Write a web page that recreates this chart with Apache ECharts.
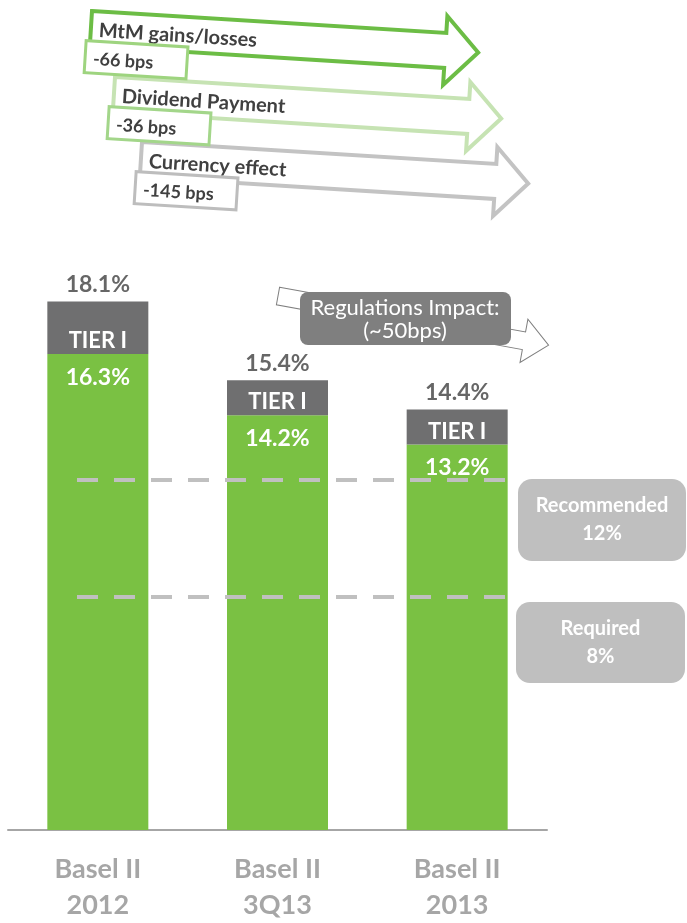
<!DOCTYPE html>
<html>
<head>
<meta charset="utf-8">
<script src="https://cdn.jsdelivr.net/npm/echarts@6/dist/echarts.min.js"></script>
<style>
  html, body { margin: 0; padding: 0; background: #fff; }
  #chart { width: 687px; height: 923px; }
</style>
</head>
<body>
<div id="chart"></div>
<script>
// values
const categories = ['Basel II\n2012', 'Basel II\n3Q13', 'Basel II\n2013']
const totalRatio = [18.1, 15.4, 14.4]
const tier1Ratio = [16.3, 14.2, 13.2]
const segmentLabel = 'TIER I'
const thresholds = [12, 8]
const thresholdNames = ['Recommended', 'Required']
const drivers = ['MtM gains/losses', 'Dividend Payment', 'Currency effect']
const driverBps = [-66, -36, -145]
const regulationBps = 50

// gray top segment = total minus tier I part
const topPart = totalRatio.map((t, i) => +(t - tier1Ratio[i]).toFixed(1))

const FONT = 'Lato'
const GREEN = '#7ac143'
const DARK = '#404040'

// one tilted outlined arrow with a small bps box on its tail
function driverArrow(x, y, title, bps, stroke, boxStroke) {
    return {
        type: 'group',
        x: x,
        y: y,
        rotation: -0.062,
        children: [
            {
                type: 'polygon',
                shape: { points: [[0, 0], [355, 0], [355, -17], [388, 17.5], [355, 52], [355, 35], [0, 35]] },
                style: { fill: '#fff', stroke: stroke, lineWidth: 4, lineJoin: 'miter' }
            },
            {
                type: 'text', x: 8, y: 19,
                style: { text: title, fontFamily: FONT, fontWeight: 'bold', fontSize: 20, fill: DARK, verticalAlign: 'middle' }
            },
            {
                type: 'rect',
                shape: { x: -4, y: 30, width: 102, height: 32 },
                style: { fill: '#fff', stroke: boxStroke, lineWidth: 3 }
            },
            {
                type: 'text', x: 4, y: 48,
                style: { text: bps + ' bps', fontFamily: FONT, fontWeight: 'bold', fontSize: 18, fill: DARK, verticalAlign: 'middle' }
            }
        ]
    }
}

function thresholdBox(x, y, w, h, name, value) {
    return {
        type: 'group',
        x: x,
        y: y,
        children: [
            { type: 'rect', shape: { x: 0, y: 0, width: w, height: h, r: 14 }, style: { fill: '#bfbfbf' } },
            {
                type: 'text', x: w / 2, y: h / 2,
                style: {
                    text: name + '\n' + value + '%', fontFamily: FONT, fontWeight: 'bold', fontSize: 20,
                    lineHeight: 28, fill: '#fff', align: 'center', verticalAlign: 'middle'
                }
            }
        ]
    }
}

const chart = echarts.init(document.getElementById('chart'), null, { renderer: 'canvas' })

const option = {
    backgroundColor: '#fff',
    animation: false,
    grid: { left: 8, right: 140, top: 246, bottom: 88 },
    xAxis: {
        type: 'category',
        data: categories,
        axisLine: { lineStyle: { color: '#a6a6a6', width: 2 } },
        axisTick: { show: false },
        axisLabel: {
            color: '#a6a6a6', fontFamily: FONT, fontWeight: 'bold', fontSize: 27,
            lineHeight: 36, margin: 21
        }
    },
    yAxis: {
        type: 'value', min: 0, max: 20, show: false,
        splitLine: { show: false }
    },
    series: [
        {
            name: 'Tier I',
            type: 'bar',
            stack: 'car',
            data: tier1Ratio,
            barWidth: 101,
            itemStyle: { color: GREEN },
            label: {
                show: true, position: 'insideTop', distance: 12,
                formatter: p => p.value.toFixed(1) + '%',
                color: '#fff', fontFamily: FONT, fontWeight: 'bold', fontSize: 23
            },
            markLine: {
                silent: true,
                symbol: 'none',
                label: { show: false },
                lineStyle: { color: '#c0c0c0', width: 4, type: [21, 16], opacity: 1 },
                data: thresholds.map(v => [{ x: 77, yAxis: v }, { x: 512, yAxis: v }])
            }
        },
        {
            name: 'Total',
            type: 'bar',
            stack: 'car',
            data: topPart,
            barWidth: 101,
            itemStyle: { color: '#6f6f70' },
            label: {
                show: true, position: 'insideBottom', distance: 2,
                formatter: segmentLabel,
                color: '#fff', fontFamily: FONT, fontWeight: 'bold', fontSize: 22
            }
        },
        {
            name: 'Total label',
            type: 'scatter',
            data: totalRatio,
            symbolSize: 0,
            silent: true,
            label: {
                show: true, position: 'top', distance: 5,
                formatter: p => p.value.toFixed(1) + '%',
                color: DARK, fontFamily: FONT, fontWeight: 'bold', fontSize: 23
            }
        }
    ],
    graphic: [
        driverArrow(142, 142, drivers[2], driverBps[2], '#c3c3c3', '#bdbdbd'),
        driverArrow(115, 77, drivers[1], driverBps[1], '#c6e3b3', '#a3d68a'),
        driverArrow(92, 11, drivers[0], driverBps[0], '#6cbd45', '#9ed47f'),
        {
            // thin outlined arrow behind the regulations box
            type: 'polygon',
            x: 278, y: 296, rotation: -0.18,
            shape: { points: [[0, -9], [250, -9], [250, -22], [275, 0], [250, 22], [250, 9], [0, 9]] },
            style: { fill: '#fff', stroke: '#7f7f7f', lineWidth: 1 }
        },
        {
            type: 'group', x: 300, y: 292,
            children: [
                { type: 'rect', shape: { x: 0, y: 0, width: 211, height: 53, r: 8 }, style: { fill: '#7f7f7f' } },
                {
                    type: 'text', x: 105, y: 27,
                    style: {
                        text: 'Regulations Impact:\n(~' + regulationBps + 'bps)', fontFamily: FONT, fontSize: 22,
                        lineHeight: 23, fill: '#fff', align: 'center', verticalAlign: 'middle'
                    }
                }
            ]
        },
        thresholdBox(518, 479, 168, 82, thresholdNames[0], thresholds[0]),
        thresholdBox(516, 602, 169, 81, thresholdNames[1], thresholds[1])
    ]
}

chart.setOption(option)
</script>
</body>
</html>
